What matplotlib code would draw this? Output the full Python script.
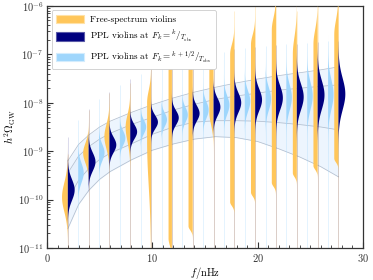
import numpy as np
import matplotlib
matplotlib.use("Agg")
import matplotlib.pyplot as plt
from matplotlib.patches import Patch

plt.rcParams["mathtext.fontset"] = "cm"
plt.rcParams["font.family"] = "serif"
plt.rcParams["font.serif"] = ["cmr10", "DejaVu Serif"]
plt.rcParams["axes.formatter.use_mathtext"] = True

# --------------------------------------------------------------------------
# data (log10 of h^2 Omega_GW)
# --------------------------------------------------------------------------
T_OBS_INV = 1.977          # nHz, 1 / T_obs
k_bins = np.arange(1, 15)

# free-spectrum violins: plateau [bot, top] with gaussian shoulders
fs_top = [-9.95, -9.04, -8.70, -8.50, -8.00, -7.20, -7.10, -7.20, -7.00, -6.80, -6.50, -7.00, -6.80, -6.60]
fs_bot = [-9.95, -9.04, -8.70, -8.50, -8.80, -10.8, -10.55, -8.20, -10.05, -9.85, -9.65, -9.45, -9.30, -9.15]
fs_sup = [0.30, 0.20, 0.25, 0.25, 0.25, 0.25, 0.20, 0.20, 0.20, 0.20, 0.25, 0.35, 0.30, 0.30]
fs_sdn = [0.30, 0.20, 0.25, 0.30, 0.90, 0.15, 0.08, 0.25, 0.08, 0.08, 0.08, 0.08, 0.08, 0.08]
fs_w = [0.55, 0.52, 0.48, 0.44, 0.38, 0.32, 0.40, 0.40, 0.40, 0.40, 0.40, 0.38, 0.40, 0.40]

# PPL violins at F_k = k / T_obs
ppl_mu = [-9.80, -9.22, -8.87, -8.60, -8.40, -8.31, -8.22, -8.09, -8.00, -7.94, -7.90, -7.88, -7.84, -7.82]
ppl_sig = [0.22, 0.19, 0.16, 0.15, 0.14, 0.15, 0.16, 0.18, 0.20, 0.22, 0.25, 0.27, 0.30, 0.33]

# PPL violins at F_k = (k + 1/2) / T_obs
half_k = np.arange(1, 14) + 0.5
half_mu = [-9.45, -9.03, -8.73, -8.50, -8.35, -8.25, -8.15, -8.05, -7.97, -7.92, -7.89, -7.86, -7.83]
half_sig = [0.20, 0.17, 0.15, 0.14, 0.14, 0.15, 0.17, 0.19, 0.21, 0.23, 0.26, 0.28, 0.31]

# PPL band (quantiles of the power law)
band_f = [1.977, 3, 4, 5, 6, 8, 10, 12, 14, 16, 18, 20, 22, 24, 26, 27.68]
up95 = [-9.20, -8.86, -8.66, -8.50, -8.38, -8.20, -8.04, -7.90, -7.78, -7.68, -7.59, -7.51, -7.44, -7.38, -7.32, -7.26]
up68 = [-9.45, -9.10, -8.90, -8.75, -8.63, -8.45, -8.30, -8.15, -8.03, -7.93, -7.86, -7.80, -7.74, -7.70, -7.66, -7.63]
lo68 = [-10.0, -9.60, -9.35, -9.17, -9.04, -8.85, -8.65, -8.50, -8.40, -8.37, -8.37, -8.38, -8.41, -8.45, -8.50, -8.56]
lo95 = [-10.6, -10.1, -9.80, -9.58, -9.42, -9.18, -8.98, -8.85, -8.75, -8.70, -8.72, -8.80, -8.95, -9.12, -9.32, -9.53]

ORANGE = "#ffc65a"
NAVY = "#00007f"
LIGHT = "#9fd6fc"

# --------------------------------------------------------------------------
# plotting
# --------------------------------------------------------------------------
yy = np.linspace(-11.6, -5.4, 900)


def plateau(top, bot, s_up, s_dn):
    d = np.ones_like(yy)
    hi = yy > top
    lo = yy < bot
    d[hi] = np.exp(-0.5 * ((yy[hi] - top) / s_up) ** 2)
    d[lo] = np.exp(-0.5 * ((bot - yy[lo]) / s_dn) ** 2)
    return d


def gauss(mu, sig):
    return np.exp(-0.5 * ((yy - mu) / sig) ** 2)


fig = plt.figure(figsize=(3.73, 2.80), dpi=100)
ax = fig.add_axes([0.126, 0.114, 0.847, 0.865])

# band
bf = np.array(band_f)
ax.fill_between(bf, 10 ** np.array(lo95), 10 ** np.array(up95), color="#edf5fe", lw=0, zorder=1)
ax.fill_between(bf, 10 ** np.array(lo68), 10 ** np.array(up68), color="#e6f1fd", lw=0, zorder=1)
for curve in (up95, up68, lo68, lo95):
    ax.plot(bf, 10 ** np.array(curve), color="#b3bfcf", lw=0.55, zorder=1.5)

w_ppl, w_half = 0.65, 0.52

# faint tails
for i, k in enumerate(k_bins):
    f = k * T_OBS_INV
    ax.vlines(f, 1e-11, 10 ** (fs_top[i] + 0.9), color=ORANGE, lw=0.6, alpha=0.3, zorder=2)
    ax.vlines(f, 1e-11, 10 ** (ppl_mu[i] + 1.1), color=NAVY, lw=0.5, alpha=0.2, zorder=2)
for i, k in enumerate(half_k):
    f = k * T_OBS_INV
    ax.vlines(f, 1e-11, 10 ** (half_mu[i] + 1.1), color=LIGHT, lw=0.5, alpha=0.4, zorder=2)

for i, k in enumerate(k_bins):
    f = k * T_OBS_INV
    d = plateau(fs_top[i], fs_bot[i], fs_sup[i], fs_sdn[i])
    ax.fill_betweenx(10 ** yy, f - fs_w[i] * d, f, color=ORANGE, lw=0, zorder=3)
    d = gauss(ppl_mu[i], ppl_sig[i])
    ax.fill_betweenx(10 ** yy, f, f + w_ppl * d, color=NAVY, lw=0, zorder=3)
for i, k in enumerate(half_k):
    f = k * T_OBS_INV
    d = gauss(half_mu[i], half_sig[i])
    ax.fill_betweenx(10 ** yy, f, f + w_half * d, color=LIGHT, lw=0, zorder=3)

ax.set_yscale("log")
ax.set_xlim(0, 30)
ax.set_ylim(1e-11, 1e-6)
ax.set_xticks([0, 10, 20, 30])
ax.set_xticks(np.arange(0, 31, 1), minor=True)
ax.tick_params(which="both", direction="in", labelsize=7.5, colors="#333333", pad=2.5)
ax.tick_params(which="major", length=4)
ax.tick_params(which="minor", length=2)
for s in ax.spines.values():
    s.set_color("#333333")
    s.set_linewidth(0.9)

ax.set_xlabel(r"$f/{\rm nHz}$", fontsize=7.5, labelpad=1)
ax.set_ylabel(r"$h^2\Omega_{\rm GW}$", fontsize=7.5, labelpad=0)

handles = [
    Patch(facecolor=ORANGE, edgecolor="#ffe2a8", lw=0.8),
    Patch(facecolor=NAVY, edgecolor="#5a5aa8", lw=0.8),
    Patch(facecolor=LIGHT, edgecolor="#d3ecfd", lw=0.8),
]
labels = [
    "Free-spectrum violins",
    r"PPL violins at $F_k = {}^{k}/_{T_{\rm obs}}$",
    r"PPL violins at $F_k = {}^{k\,+\,1/2}/_{T_{\rm obs}}$",
]
leg = ax.legend(handles, labels, loc="upper left", fontsize=6.6, frameon=True,
                fancybox=True, framealpha=1, edgecolor="#cccccc",
                handlelength=3.0, handleheight=1.0, borderpad=0.5, labelspacing=0.55,
                handletextpad=0.7)
leg.get_frame().set_linewidth(0.6)

fig.savefig("out.png", dpi=100)
